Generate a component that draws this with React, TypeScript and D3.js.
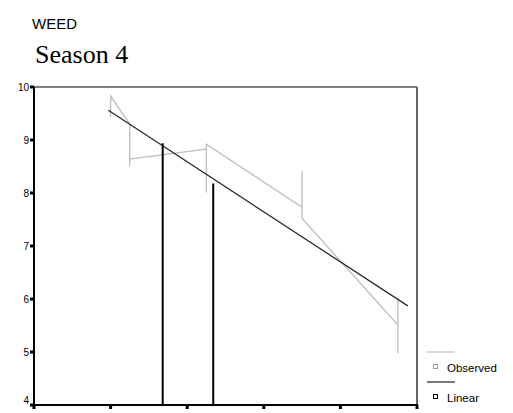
import * as d3 from 'd3';
import { useEffect, useRef } from 'react';

const yTicks = [4, 5, 6, 7, 8, 9, 10];
const xTicks = [0, 1, 2, 3, 4, 5];

const observedX = [1, 1, 1.25, 1.25, 1.25, 2.25, 2.25, 2.25, 3.5, 3.5, 3.5, 4.75, 4.75, 4.75];
const observedY = [9.43, 9.83, 9.3, 8.5, 8.64, 8.83, 8.01, 8.92, 7.73, 8.41, 7.52, 5.51, 5.98, 4.98];

const linearX = [0.97, 4.88];
const linearY = [9.56, 5.87];

const spikeX = [1.68, 2.34];
const spikeTop = [8.94, 8.18];

const legendItems = ['Observed', 'Linear'];
const legendColors = ['#c0c0c0', '#222'];

const App = () => {
  const ref = useRef(null);

  useEffect(() => {
    const svg = d3.select(ref.current);
    svg.selectAll('*').remove();

    const margin = { left: 34, right: 96, top: 87, bottom: 8 };
    const width = 513;
    const height = 413;

    const x = d3.scaleLinear().domain([0, 5]).range([margin.left, width - margin.right]);
    const y = d3.scaleLinear().domain([4, 10]).range([height - margin.bottom, margin.top]);

    svg.append('text')
      .attr('x', 32).attr('y', 29)
      .style('font-family', '"Liberation Sans", Arial, sans-serif')
      .style('font-size', '15px')
      .text('WEED');
    svg.append('text')
      .attr('x', 35).attr('y', 63)
      .style('font-family', '"Liberation Serif", "Times New Roman", serif')
      .style('font-size', '26px')
      .text('Season 4');

    // frame
    svg.append('line')
      .attr('x1', x(0)).attr('x2', x(5)).attr('y1', y(10)).attr('y2', y(10))
      .attr('stroke', '#555').attr('stroke-width', 1.5);
    svg.append('line')
      .attr('x1', x(5)).attr('x2', x(5)).attr('y1', y(10)).attr('y2', y(4))
      .attr('stroke', '#666').attr('stroke-width', 2);

    // observed
    const pts = observedX.map((v, i) => [x(v), y(observedY[i])]);
    svg.append('path')
      .attr('d', d3.line()(pts as [number, number][]))
      .attr('fill', 'none').attr('stroke', '#c0c0c0').attr('stroke-width', 1.4);

    // linear
    const lp = linearX.map((v, i) => [x(v), y(linearY[i])]);
    svg.append('path')
      .attr('d', d3.line()(lp as [number, number][]))
      .attr('fill', 'none').attr('stroke', '#2a2a2a').attr('stroke-width', 1.3);

    // spikes
    svg.selectAll('.spike')
      .data(spikeX)
      .enter()
      .append('line')
      .attr('class', 'spike')
      .attr('x1', (d) => x(d)).attr('x2', (d) => x(d))
      .attr('y1', (d, i) => y(spikeTop[i])).attr('y2', y(4))
      .attr('stroke', '#000').attr('stroke-width', 2);

    // axes
    svg.append('line')
      .attr('x1', x(0)).attr('x2', x(0)).attr('y1', y(10)).attr('y2', y(4) + 1)
      .attr('stroke', '#000').attr('stroke-width', 2);
    svg.append('line')
      .attr('x1', x(0)).attr('x2', x(5) + 1).attr('y1', y(4)).attr('y2', y(4))
      .attr('stroke', '#000').attr('stroke-width', 2);

    svg.selectAll('.ytick')
      .data(yTicks)
      .enter()
      .append('rect')
      .attr('class', 'ytick')
      .attr('x', x(0) - 4).attr('y', (d) => y(d) - 1.5)
      .attr('width', 4).attr('height', 3)
      .attr('fill', '#000');
    svg.selectAll('.ylab')
      .data(yTicks)
      .enter()
      .append('text')
      .attr('class', 'ylab')
      .attr('x', x(0) - 5).attr('y', (d) => (d === 4 ? y(d) - 1 : y(d) + 3.5))
      .attr('text-anchor', 'end')
      .style('font-family', '"Liberation Sans", Arial, sans-serif')
      .style('font-size', '10px')
      .text((d) => d);

    svg.selectAll('.xtick')
      .data(xTicks)
      .enter()
      .append('rect')
      .attr('class', 'xtick')
      .attr('x', (d) => x(d) - 1.5).attr('y', y(4))
      .attr('width', 3).attr('height', 4)
      .attr('fill', '#000');

    // legend
    const lg = svg.append('g').attr('transform', 'translate(427, 352)');
    legendItems.forEach((name, i) => {
      const g = lg.append('g').attr('transform', `translate(0, ${i * 30})`);
      g.append('line')
        .attr('x1', 0).attr('x2', 28).attr('y1', 0).attr('y2', 0)
        .attr('stroke', legendColors[i]).attr('stroke-width', 1.2);
      g.append('rect')
        .attr('x', 6.5).attr('y', 12.5).attr('width', 4).attr('height', 4)
        .attr('fill', '#fff').attr('stroke', i === 0 ? '#999' : '#000').attr('stroke-width', 1);
      g.append('text')
        .attr('x', 20).attr('y', 20)
        .style('font-family', '"Liberation Sans", Arial, sans-serif')
        .style('font-size', '11.5px')
        .text(name);
    });
  }, []);

  return <svg ref={ref} width={513} height={413} style={{ display: 'block', position: 'absolute', left: 0, top: 0 }} />;
};

export default App;
